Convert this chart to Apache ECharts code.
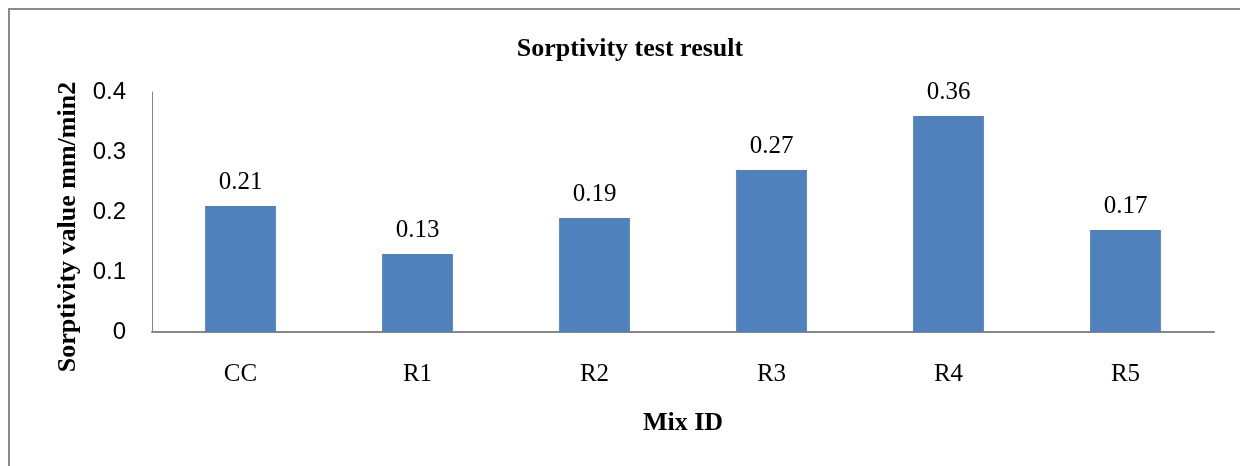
<!DOCTYPE html>
<html>
  <head>
    <meta charset="utf-8" />
    <title>Sorptivity test result</title>
    <script src="https://cdn.jsdelivr.net/npm/echarts@6/dist/echarts.min.js"></script>
    <style>
      html, body { margin: 0; padding: 0; background: #fff; }
    </style>
  </head>
  <body>
    <div id="chart" style="width: 1240px; height: 466px"></div>

    <script>
      // values
      const mixIds = ['CC', 'R1', 'R2', 'R3', 'R4', 'R5'];
      const sorptivity = [0.21, 0.13, 0.19, 0.27, 0.36, 0.17];
      const yTicks = [0, 0.1, 0.2, 0.3, 0.4];

      const serif = '"Liberation Serif", "Times New Roman", serif';
      const sans = '"Liberation Sans", Arial, sans-serif';

      let myChart = echarts.init(document.getElementById('chart'), null, {
        width: 1240,
        height: 466,
      });

      let opts = {
        animation: false,
        backgroundColor: '#fff',
        title: {
          text: 'Sorptivity test result',
          left: 625,
          textAlign: 'center',
          top: 31,
          textStyle: {
            fontFamily: serif,
            fontWeight: 'bold',
            fontSize: 26,
            color: '#000',
          },
        },
        graphic: [
          {
            type: 'rect',
            shape: { x: 9, y: 9, width: 1300, height: 600 },
            style: { fill: 'none', stroke: '#8a8a8a', lineWidth: 2 },
            silent: true,
          },
        ],
        grid: {
          left: 152,
          right: 26,
          top: 92,
          bottom: 134,
        },
        xAxis: {
          type: 'category',
          data: mixIds,
          name: 'Mix ID',
          nameLocation: 'middle',
          nameGap: 78,
          nameTextStyle: {
            fontFamily: serif,
            fontWeight: 'bold',
            fontSize: 26,
            color: '#000',
          },
          axisLine: { lineStyle: { color: '#868686', width: 2 } },
          axisTick: { show: false },
          axisLabel: {
            margin: 30,
            fontFamily: serif,
            fontSize: 25,
            color: '#000',
          },
        },
        yAxis: {
          type: 'value',
          min: yTicks[0],
          max: yTicks[yTicks.length - 1],
          interval: 0.1,
          name: 'Sorptivity value mm/min2',
          nameLocation: 'middle',
          nameGap: 70,
          nameTextStyle: {
            fontFamily: serif,
            fontWeight: 'bold',
            fontSize: 26,
            color: '#000',
            // nudge the rotated title down a little, as in the source
            padding: [0, 30, 0, 0],
          },
          axisLine: { show: true, lineStyle: { color: '#868686', width: 1 } },
          axisTick: { show: false },
          splitLine: { show: false },
          axisLabel: {
            margin: 26,
            fontFamily: sans,
            fontSize: 24,
            color: '#000',
            formatter: (v) => String(Math.round(v * 10) / 10),
          },
        },
        series: [
          {
            type: 'bar',
            data: sorptivity,
            barWidth: '40%',
            itemStyle: { color: '#4F81BD' },
            label: {
              show: true,
              position: 'top',
              distance: 11,
              fontFamily: serif,
              fontSize: 25,
              color: '#000',
            },
          },
        ],
      };

      myChart.setOption(opts, { notMerge: true });
    </script>
  </body>
</html>
